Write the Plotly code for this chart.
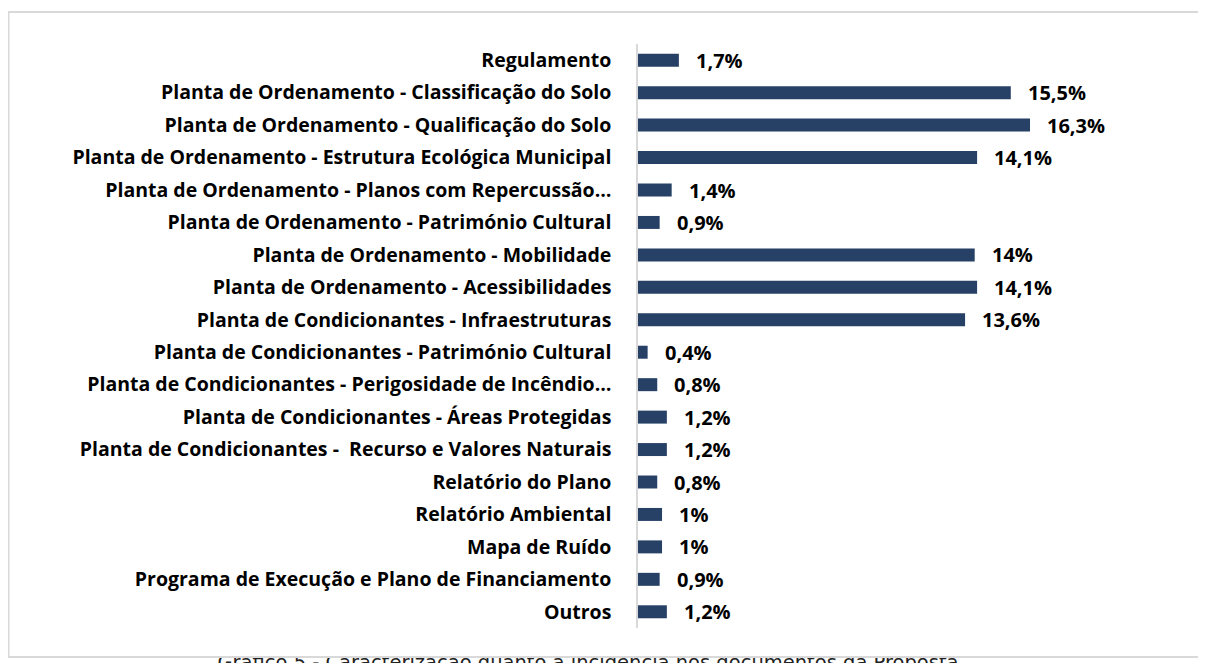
import plotly.graph_objects as go

categories = [
    "Regulamento",
    "Planta de Ordenamento - Classificação do Solo",
    "Planta de Ordenamento - Qualificação do Solo",
    "Planta de Ordenamento - Estrutura Ecológica Municipal",
    "Planta de Ordenamento - Planos com Repercussão…",
    "Planta de Ordenamento - Património Cultural",
    "Planta de Ordenamento - Mobilidade",
    "Planta de Ordenamento - Acessibilidades",
    "Planta de Condicionantes - Infraestruturas",
    "Planta de Condicionantes - Património Cultural",
    "Planta de Condicionantes - Perigosidade de Incêndio…",
    "Planta de Condicionantes - Áreas Protegidas",
    "Planta de Condicionantes -  Recurso e Valores Naturais",
    "Relatório do Plano",
    "Relatório Ambiental",
    "Mapa de Ruído",
    "Programa de Execução e Plano de Financiamento",
    "Outros",
]
values = [1.7, 15.5, 16.3, 14.1, 1.4, 0.9, 14.0, 14.1, 13.6, 0.4, 0.8, 1.2, 1.2, 0.8, 1.0, 1.0, 0.9, 1.2]
value_labels = [f"{v:g}".replace(".", ",") + "%" for v in values]
caption = "Gráfico 5 - Caracterização quanto à incidência nos documentos da Proposta"

FONT = "Open Sans"
BAR = "#264066"

# page has an 8px body margin, so the figure is sized/positioned to compensate
W, H = 1198, 655
PLOT_L, PLOT_R, PLOT_T, PLOT_B = 630, 1111, 36, 620   # main plot area (px)
CAP_T = 650                                             # caption strip top (px)


def fx(px):
    return px / W


def fy(py):
    return (H - py) / H


fig = go.Figure()
fig.add_trace(go.Bar(
    x=values,
    y=categories,
    orientation="h",
    marker=dict(color=BAR, line=dict(width=0)),
    width=0.4,
    hoverinfo="skip",
    xaxis="x", yaxis="y",
))

# caption: only its upper part is visible below the chart frame, as in the source
fig.add_trace(go.Scatter(
    x=[580], y=[656],
    xaxis="x2", yaxis="y2",
    mode="text", text=[caption], textposition="middle center",
    textfont=dict(family="DejaVu Sans", size=19.5, color="#222222"),
    cliponaxis=True, hoverinfo="skip",
))

annotations = []
for c, v, t in zip(categories, values, value_labels):
    annotations.append(dict(
        x=v, y=c, xref="x", yref="y", text=f"<b>{t}</b>",
        showarrow=False, xanchor="left", yanchor="middle", xshift=15, yshift=0,
        font=dict(family=FONT, size=20, color="#000000"),
    ))

fig.update_layout(
    width=W, height=H,
    margin=dict(l=0, r=0, t=0, b=0, pad=0),
    paper_bgcolor="white", plot_bgcolor="rgba(0,0,0,0)",
    showlegend=False,
    xaxis=dict(domain=[fx(PLOT_L), fx(PLOT_R)], anchor="y",
               range=[0, 20], showgrid=False, zeroline=False, showticklabels=False,
               showline=False, ticks=""),
    yaxis=dict(domain=[fy(PLOT_B), fy(PLOT_T)], anchor="x",
               autorange="reversed", showgrid=False, zeroline=False,
               showline=True, linecolor="#D9D9D9", linewidth=1.5,
               tickmode="array", tickvals=categories,
               ticktext=[f"<b>{c.replace('  ', '&nbsp; ')}</b>" for c in categories],
               tickfont=dict(family=FONT, size=19.5, color="#000000"),
               ticks="", ticklabelstandoff=21, automargin=False),
    xaxis2=dict(domain=[0, 1], anchor="y2", range=[0, W], visible=False),
    yaxis2=dict(domain=[0, fy(CAP_T)], anchor="x2", range=[H, CAP_T], visible=False),
    annotations=annotations,
    shapes=[
        dict(
            type="rect", xref="paper", yref="paper",
            x0=fx(0.5), x1=fx(1215),
            y0=fy(649), y1=fy(4),
            line=dict(color="#D9D9D9", width=2), fillcolor="rgba(0,0,0,0)",
            layer="above",
        ),
    ],
)

fig.write_html("out.html")
